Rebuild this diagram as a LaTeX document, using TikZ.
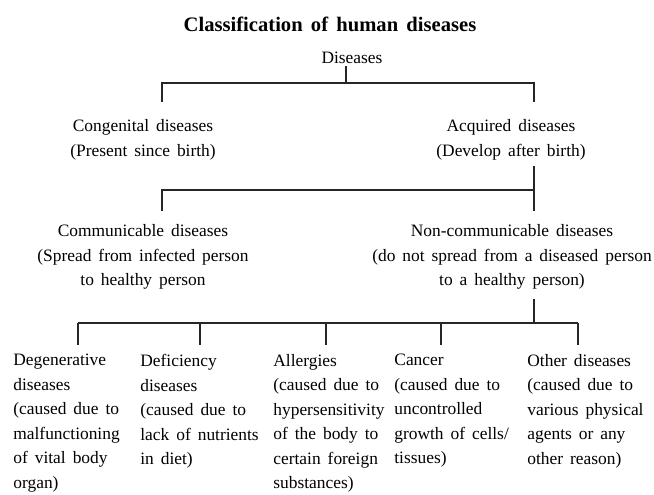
\documentclass[tikz,border=0pt]{standalone}
\usepackage{fontspec}
\setmainfont{Liberation Serif}[WordSpace=1.6]

\begin{document}
\begin{tikzpicture}[
    x=0.5pt, y=-0.5pt,
    font=\fontsize{8.7}{12.25}\selectfont,
    every node/.style={inner sep=1pt},
    tree/.style={draw=black!85, line width=1pt},
    head/.style={align=center},
    leaf/.style={align=left, anchor=north west}
]
    \useasboundingbox (0,0) rectangle (654,494);

    % Title and root
    \node[font=\fontsize{10.3}{12}\selectfont\bfseries] (title) at (330,24) {Classification of human diseases};
    \node (root) at (352,58) {Diseases};

    % Congenital / acquired
    \node[head] (cong) at (143,140) {Congenital diseases\\(Present since birth)};
    \node[head] (acq) at (511,140) {Acquired diseases\\(Develop after birth)};

    \coordinate (j0) at (346,83);
    \coordinate (l0) at (162,83);
    \coordinate (r0) at (534,83);
    \draw[tree] (j0 |- root.south) -- (j0);
    \draw[tree, shorten <=7.5pt, shorten >=7.5pt] (l0 |- cong.north) |- (r0) -- (r0 |- acq.north);

    % Communicable / non-communicable
    \node[head] (comm) at (143,257) {Communicable diseases\\(Spread from infected person\\to healthy person};
    \node[head] (noncomm) at (512,257) {Non-communicable diseases\\(do not spread from a diseased person\\to a healthy person)};

    \coordinate (j1) at (534,190);
    \coordinate (l1) at (162,190);
    \draw[tree, shorten <=1.5pt] (j1 |- acq.south) -- (j1);
    \draw[tree, shorten <=5.5pt, shorten >=5.5pt] (l1 |- comm.north) |- (j1) -- (j1 |- noncomm.north);

    % Non-communicable types
    \node[leaf] (deg) at (11,352) {Degenerative\\diseases\\(caused due to\\malfunctioning\\of vital body\\organ)};
    \node[leaf] (def) at (138,352) {Deficiency\\diseases\\(caused due to\\lack of nutrients\\in diet)};
    \node[leaf] (all) at (271,352) {Allergies\\(caused due to\\hypersensitivity\\of the body to\\certain foreign\\substances)};
    \node[leaf] (can) at (392,352) {Cancer\\(caused due to\\uncontrolled\\growth of cells/\\tissues)};
    \node[leaf] (oth) at (525,352) {Other diseases\\(caused due to\\various physical\\agents or any\\other reason)};

    \coordinate (j2) at (534,323);
    \foreach \n/\x in {deg/78, def/200, all/326, can/441, oth/578}
        \coordinate (\n-top) at (\x,323);
    \draw[tree, shorten <=3.5pt] (j2 |- noncomm.south) -- (j2);
    \draw[tree] (deg-top) -- (oth-top);
    \foreach \n in {deg, def, all, can, oth}
        \draw[tree, shorten >=3.5pt] (\n-top) -- (\n-top |- \n.north);
\end{tikzpicture}
\end{document}
